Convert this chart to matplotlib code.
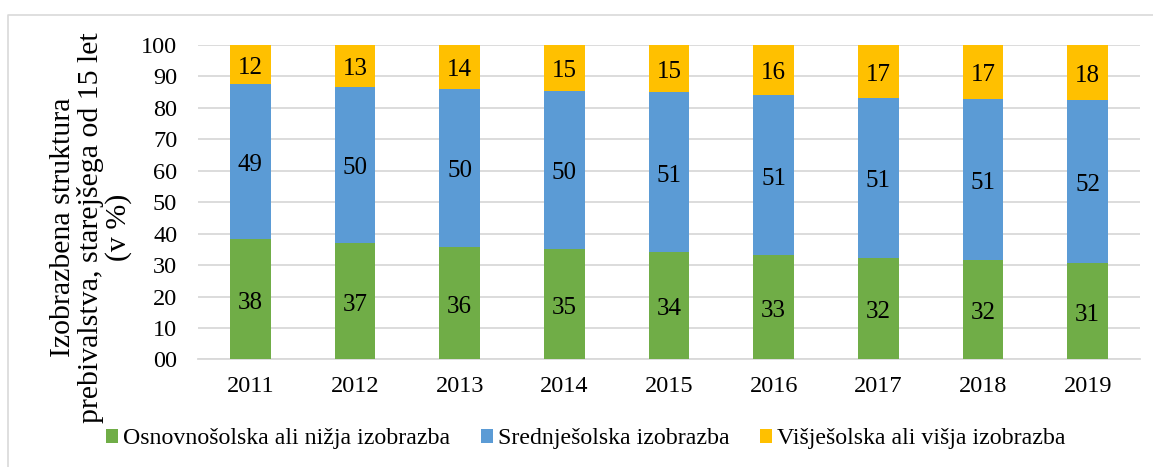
import matplotlib.pyplot as plt
from matplotlib.lines import Line2D

years = ['2011', '2012', '2013', '2014', '2015', '2016', '2017', '2018', '2019']
osnovna = [38.3, 37.0, 35.9, 35.1, 34.1, 33.2, 32.4, 31.6, 30.8]
srednja = [49.4, 49.7, 50.2, 50.3, 50.9, 50.9, 50.9, 51.3, 51.6]
visja = [12.3, 13.3, 13.9, 14.6, 15.0, 15.9, 16.7, 17.1, 17.6]
series_names = ['Osnovnošolska ali nižja izobrazba', 'Srednješolska izobrazba',
                'Višješolska ali višja izobrazba']
colors = ['#70AD47', '#5B9BD5', '#FFC000']

plt.rcParams['font.family'] = ['Liberation Serif', 'DejaVu Serif']

fig = plt.figure(figsize=(11.53, 4.67), dpi=100, facecolor='white')
ax = fig.add_axes([0.1717, 0.2302, 0.817, 0.6734])

x = list(range(len(years)))
bottom = [0.0] * len(years)
for vals, name, col in zip([osnovna, srednja, visja], series_names, colors):
    bars = ax.bar(x, vals, width=0.39, bottom=bottom, color=col, label=name,
                  edgecolor='none', zorder=3)
    texts = ax.bar_label(bars, labels=[str(int(round(v))) for v in vals],
                         label_type='center', fontsize=18, color='black')
    # digits sit a little below the segment middle in the original
    for t in texts:
        t.xyann = (0, -2.5)
    bottom = [b + v for b, v in zip(bottom, vals)]

ax.set_xlim(-0.5, len(years) - 0.5)
ax.set_ylim(0, 100)
ax.set_yticks(range(0, 101, 10))
ax.set_yticklabels(['%02d' % t for t in range(0, 101, 10)])
ax.set_xticks(x)
ax.set_xticklabels(years)
ax.tick_params(axis='both', length=0, labelsize=17.5)
ax.tick_params(axis='y', pad=15)
ax.tick_params(axis='x', pad=12)
ax.grid(axis='y', color='#d9d9d9', linewidth=1.3, zorder=0)
for s in ['top', 'right', 'left']:
    ax.spines[s].set_visible(False)
ax.spines['bottom'].set_color('#d9d9d9')
ax.spines['bottom'].set_linewidth(1.3)

ax.set_ylabel('Izobrazbena struktura\nprebivalstva, starejšega od 15 let\n(v %)',
              fontsize=21.5, linespacing=1.05)
ax.yaxis.set_label_coords(-0.070, 0.419)

ax.legend(loc='center', bbox_to_anchor=(0.508, 0.06), bbox_transform=fig.transFigure,
          ncol=3, frameon=False, fontsize=17.2, handlelength=0.5, handleheight=0.5,
          handletextpad=0.2, columnspacing=1.3)

# outer frame: only left and top edges are visible in the picture
fig.lines.append(Line2D([8 / 1153, 8 / 1153, 1.0], [0.0, 1 - 15 / 467, 1 - 15 / 467],
                        transform=fig.transFigure, color='#d9d9d9', linewidth=1.2))

fig.savefig('out.png', dpi=100)
